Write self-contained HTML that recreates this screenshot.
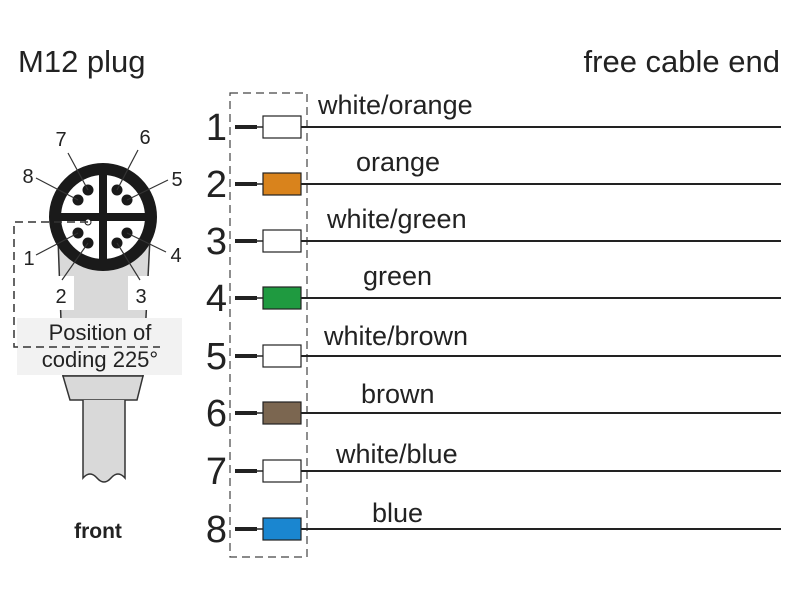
<!DOCTYPE html>
<html><head><meta charset="utf-8"><style>html,body{margin:0;padding:0;background:#fff}svg{display:block}</style></head><body>
<svg width="800" height="600" viewBox="0 0 800 600" xmlns="http://www.w3.org/2000/svg" font-family="Liberation Sans, sans-serif">
<text x="18" y="72" font-size="31" fill="#222">M12 plug</text>
<text x="780" y="72" font-size="31" fill="#222" text-anchor="end">free cable end</text>
<polygon points="58,238 150,238 143,376 63,376" fill="#d9d9d9" stroke="#333" stroke-width="1.5"/>
<polygon points="63,376 143,376 137,400 70,400" fill="#d9d9d9" stroke="#333" stroke-width="1.5"/>
<path d="M83,400 L83,478 Q90,470 97,478 Q104,486 111,478 Q118,470 125,478 L125,400" fill="#d9d9d9" stroke="#333" stroke-width="1.5"/>
<rect x="52" y="276" width="22" height="34" fill="#fff"/>
<rect x="128" y="276" width="22" height="34" fill="#fff"/>
<rect x="17" y="318" width="165" height="57" fill="#f2f2f2"/>
<circle cx="103" cy="217" r="48" fill="#fff" stroke="#1a1a1a" stroke-width="12"/>
<rect x="55" y="213" width="96" height="8" fill="#1a1a1a"/>
<rect x="99" y="169" width="8" height="96" fill="#1a1a1a"/>
<g fill="#1a1a1a">
<circle cx="88" cy="190" r="5.5"/><circle cx="78" cy="200" r="5.5"/>
<circle cx="117" cy="190" r="5.5"/><circle cx="127" cy="200" r="5.5"/>
<circle cx="78" cy="233" r="5.5"/><circle cx="88" cy="243" r="5.5"/>
<circle cx="127" cy="233" r="5.5"/><circle cx="117" cy="243" r="5.5"/>
</g>
<circle cx="88" cy="222" r="3" fill="#fff" stroke="#1a1a1a" stroke-width="1"/>
<g stroke="#333" stroke-width="1.2">
<line x1="68" y1="153" x2="88" y2="190"/><line x1="138" y1="150" x2="117" y2="190"/>
<line x1="36" y1="178" x2="78" y2="200"/><line x1="168" y1="180" x2="127" y2="200"/>
<line x1="36" y1="255" x2="78" y2="233"/><line x1="166" y1="252" x2="127" y2="233"/>
<line x1="62" y1="280" x2="88" y2="243"/><line x1="140" y1="280" x2="117" y2="243"/>
</g>
<g font-size="20" fill="#222" text-anchor="middle">
<text x="61" y="146">7</text><text x="145" y="144">6</text>
<text x="28" y="183">8</text><text x="177" y="186">5</text>
<text x="29" y="265">1</text><text x="176" y="262">4</text>
<text x="61" y="303">2</text><text x="141" y="303">3</text>
</g>
<path d="M88,222 L14,222 L14,347 L160,347" fill="none" stroke="#333" stroke-width="1.5" stroke-dasharray="8,5"/>
<text x="100" y="340" font-size="22" fill="#222" text-anchor="middle">Position of</text>
<text x="100" y="367" font-size="22" fill="#222" text-anchor="middle">coding 225°</text>
<text x="98" y="538" font-size="21" font-weight="bold" fill="#222" text-anchor="middle">front</text>
<rect x="230" y="93" width="77" height="464" fill="none" stroke="#444" stroke-width="1.2" stroke-dasharray="8,5"/>
<g stroke="#222">
<g transform="translate(0,127)"><line x1="235" y1="0" x2="257" y2="0" stroke-width="4"/><line x1="257" y1="0" x2="263" y2="0" stroke-width="1.5"/><line x1="301" y1="0" x2="781" y2="0" stroke-width="2"/><rect x="263" y="-11" width="38" height="22" fill="#fff" stroke-width="1.2"/></g>
<g transform="translate(0,184)"><line x1="235" y1="0" x2="257" y2="0" stroke-width="4"/><line x1="257" y1="0" x2="263" y2="0" stroke-width="1.5"/><line x1="301" y1="0" x2="781" y2="0" stroke-width="2"/><rect x="263" y="-11" width="38" height="22" fill="#d9831c" stroke-width="1.2"/></g>
<g transform="translate(0,241)"><line x1="235" y1="0" x2="257" y2="0" stroke-width="4"/><line x1="257" y1="0" x2="263" y2="0" stroke-width="1.5"/><line x1="301" y1="0" x2="781" y2="0" stroke-width="2"/><rect x="263" y="-11" width="38" height="22" fill="#fff" stroke-width="1.2"/></g>
<g transform="translate(0,298)"><line x1="235" y1="0" x2="257" y2="0" stroke-width="4"/><line x1="257" y1="0" x2="263" y2="0" stroke-width="1.5"/><line x1="301" y1="0" x2="781" y2="0" stroke-width="2"/><rect x="263" y="-11" width="38" height="22" fill="#1f9a40" stroke-width="1.2"/></g>
<g transform="translate(0,356)"><line x1="235" y1="0" x2="257" y2="0" stroke-width="4"/><line x1="257" y1="0" x2="263" y2="0" stroke-width="1.5"/><line x1="301" y1="0" x2="781" y2="0" stroke-width="2"/><rect x="263" y="-11" width="38" height="22" fill="#fff" stroke-width="1.2"/></g>
<g transform="translate(0,413)"><line x1="235" y1="0" x2="257" y2="0" stroke-width="4"/><line x1="257" y1="0" x2="263" y2="0" stroke-width="1.5"/><line x1="301" y1="0" x2="781" y2="0" stroke-width="2"/><rect x="263" y="-11" width="38" height="22" fill="#7b6650" stroke-width="1.2"/></g>
<g transform="translate(0,471)"><line x1="235" y1="0" x2="257" y2="0" stroke-width="4"/><line x1="257" y1="0" x2="263" y2="0" stroke-width="1.5"/><line x1="301" y1="0" x2="781" y2="0" stroke-width="2"/><rect x="263" y="-11" width="38" height="22" fill="#fff" stroke-width="1.2"/></g>
<g transform="translate(0,529)"><line x1="235" y1="0" x2="257" y2="0" stroke-width="4"/><line x1="257" y1="0" x2="263" y2="0" stroke-width="1.5"/><line x1="301" y1="0" x2="781" y2="0" stroke-width="2"/><rect x="263" y="-11" width="38" height="22" fill="#1a86d0" stroke-width="1.2"/></g>
</g>
<g font-size="38" fill="#222" text-anchor="end">
<text x="227" y="140">1</text><text x="227" y="197">2</text><text x="227" y="254">3</text><text x="227" y="311">4</text>
<text x="227" y="369">5</text><text x="227" y="426">6</text><text x="227" y="484">7</text><text x="227" y="542">8</text>
</g>
<g font-size="27" fill="#222">
<text x="318" y="114">white/orange</text><text x="356" y="171">orange</text>
<text x="327" y="228">white/green</text><text x="363" y="285">green</text>
<text x="324" y="345">white/brown</text><text x="361" y="403">brown</text>
<text x="336" y="463">white/blue</text><text x="372" y="522">blue</text>
</g>
</svg>
</body></html>
